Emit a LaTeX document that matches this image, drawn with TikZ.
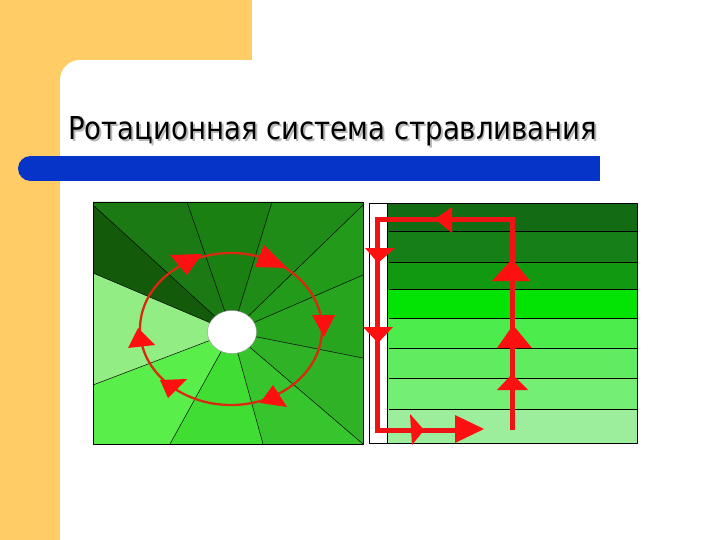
\documentclass[tikz,border=0pt]{standalone}
\usepackage{fontspec}
\usepackage{graphicx}
\newfontfamily\titlefont{DejaVu Sans}
\definecolor{bgorange}{HTML}{FFCC66}
\definecolor{barblue}{HTML}{0633C8}
\definecolor{ellred}{HTML}{D82A10}
\definecolor{arrred}{HTML}{FF1010}
\definecolor{pathred}{HTML}{EE1414}
% left picture sectors
\definecolor{sA}{HTML}{1C7A14}
\definecolor{sB}{HTML}{1A8012}
\definecolor{sC}{HTML}{1E8C16}
\definecolor{sD}{HTML}{229A1A}
\definecolor{sE}{HTML}{28A51F}
\definecolor{sF}{HTML}{2FB226}
\definecolor{sG}{HTML}{36C52C}
\definecolor{sH}{HTML}{40DE32}
\definecolor{sI}{HTML}{5AEE4A}
\definecolor{sJ}{HTML}{92EE84}
\definecolor{sK}{HTML}{135A0B}
% right picture bands
\definecolor{b1}{HTML}{136B13}
\definecolor{b2}{HTML}{177F17}
\definecolor{b3}{HTML}{119A11}
\definecolor{b4}{HTML}{04E404}
\definecolor{b5}{HTML}{4DEC4D}
\definecolor{b6}{HTML}{60EC60}
\definecolor{b7}{HTML}{74EF74}
\definecolor{b8}{HTML}{9CEE9C}
\newcommand{\titletext}{\resizebox{529pt}{23pt}{\titlefont Ротационная система стравливания}}
\tikzset{
  sepline/.style={draw=black, line width=0.5pt},
  boxline/.style={draw=black, line width=0.7pt},
  arrowtri/.style={fill=arrred},
  flowpath/.style={draw=pathred, line width=5pt},
}
\begin{document}
\begin{tikzpicture}[x=1pt,y=-1pt,line join=round]
\useasboundingbox (0,0) rectangle (720,540);
\fill[white] (0,0) rectangle (720,540);
% background frame
\fill[bgorange] (0,0) rectangle (252,60);
\fill[bgorange] (0,0) rectangle (60,540);
\fill[bgorange] (60,60) rectangle (80,80);
\fill[white] (80,80) circle (20pt);
% title with soft shadow
\node[anchor=base west, inner sep=0pt] (title) at (68,140)
  {\rlap{\kern1.8pt\raisebox{-1.8pt}{\color{black!28}\titletext}}\titletext};
% blue bar
\fill[barblue] (30.5,168.5) circle (12.5pt);
\fill[barblue] (30.5,156) rectangle (600,181);
% ---------- left picture ----------
\coordinate (C) at (232,332);
\coordinate (p11) at (93,205);
\coordinate (p1) at (187,202);
\coordinate (p2) at (272,202);
\coordinate (p3) at (363,205);
\coordinate (p4) at (363,275);
\coordinate (p5) at (363,358);
\coordinate (p6) at (363,444);
\coordinate (p7) at (263,444);
\coordinate (p8) at (170,444);
\coordinate (p9) at (93,385);
\coordinate (p10) at (93,273);
\fill[sA] (C) -- (p11) -- (93,202) -- (p1) -- cycle;
\fill[sB] (C) -- (p1) -- (p2) -- cycle;
\fill[sC] (C) -- (p2) -- (363,202) -- (p3) -- cycle;
\fill[sD] (C) -- (p3) -- (p4) -- cycle;
\fill[sE] (C) -- (p4) -- (p5) -- cycle;
\fill[sF] (C) -- (p5) -- (p6) -- cycle;
\fill[sG] (C) -- (p6) -- (p7) -- cycle;
\fill[sH] (C) -- (p7) -- (p8) -- cycle;
\fill[sI] (C) -- (p8) -- (93,444) -- (p9) -- cycle;
\fill[sJ] (C) -- (p9) -- (p10) -- cycle;
\fill[sK] (C) -- (p10) -- (p11) -- cycle;
\foreach \p in {p1,p2,p3,p4,p5,p6,p7,p8,p9,p10,p11}
  \draw[sepline] (C) -- (\p);
\draw[boxline] (93,202) rectangle (363,444);
\fill[white, draw=black!40, line width=0.4pt] (C) ellipse [x radius=24.5pt, y radius=21.5pt];
% red circulation
\draw[ellred, line width=2.3pt] (231,329) ellipse [x radius=91pt, y radius=76pt];
\fill[arrowtri] (170,255) -- (202,254) -- (187,275) -- cycle;
\fill[arrowtri] (264,245) -- (287,268) -- (255,267) -- cycle;
\fill[arrowtri] (312,315) -- (335,315) -- (324,337) -- cycle;
\fill[arrowtri] (273,385) -- (287,407) -- (260,403) -- cycle;
\fill[arrowtri] (160,380) -- (187,379) -- (168,398) -- cycle;
\fill[arrowtri] (138,328) -- (155,345) -- (128,348) -- cycle;
% ---------- right picture ----------
\fill[b1] (387,203) rectangle (637,231);
\fill[b2] (387,231) rectangle (637,262);
\fill[b3] (387,262) rectangle (637,289);
\fill[b4] (387,289) rectangle (637,318);
\fill[b5] (387,318) rectangle (637,348);
\fill[b6] (387,348) rectangle (637,378);
\fill[b7] (387,378) rectangle (637,409);
\fill[b8] (387,409) rectangle (637,443);
\foreach \yy in {231,262,289,318,348,378,409}
  \draw[sepline] (389,\yy) -- (637,\yy);
\draw[boxline] (369,203) rectangle (637,443);
\draw[boxline] (387,203) -- (387,443);
% red flow path
\coordinate (q1) at (512,430);
\coordinate (q2) at (512,220);
\coordinate (q3) at (377,220);
\coordinate (q4) at (377,430);
\coordinate (q5) at (458,430);
\draw[flowpath, line join=miter, line cap=butt] (q1) -- (q2) -- (q3) -- (q4) -- (q5);
\fill[arrowtri] (435,219) -- (452,207) -- (452,233) -- cycle;
\fill[arrowtri] (365,248) -- (395,248) -- (378,263) -- cycle;
\fill[arrowtri] (363,327) -- (393,327) -- (378,343) -- cycle;
\fill[arrowtri] (492,281) -- (530,281) -- (512,259) -- cycle;
\fill[arrowtri] (497,348) -- (532,348) -- (513,325) -- cycle;
\fill[arrowtri] (497,390) -- (528,390) -- (512,374) -- cycle;
\fill[arrowtri] (410,414) -- (424,430) -- (412,445) -- cycle;
\fill[arrowtri] (455,415) -- (484,429) -- (455,443) -- cycle;
\end{tikzpicture}
\end{document}
